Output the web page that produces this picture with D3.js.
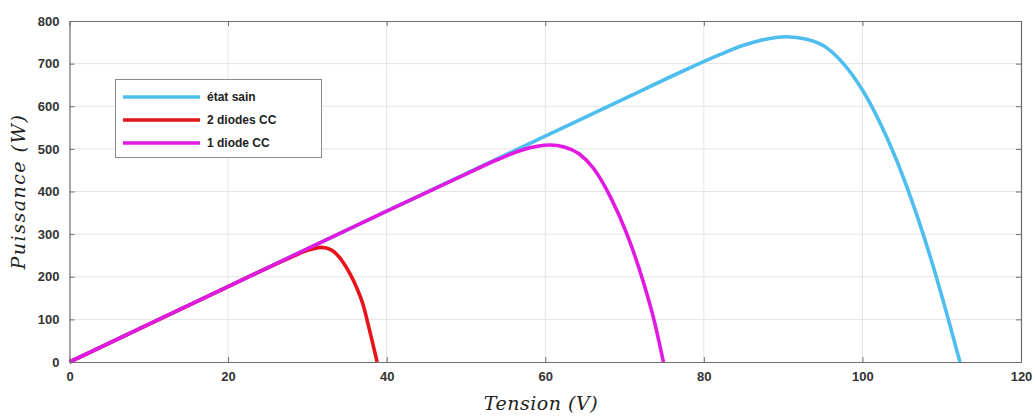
<!DOCTYPE html>
<html>
<head>
<meta charset="utf-8">
<script src="https://cdn.jsdelivr.net/npm/d3@7"></script>
<style>
  html, body { margin: 0; padding: 0; background: #fff; }
  svg { display: block; }
</style>
</head>
<body>
<svg id="chart" width="1035" height="417"></svg>
<script>
// P-V curves of a PV string: healthy vs. bypass diodes short-circuited
const seriesNames = ["état sain", "2 diodes CC", "1 diode CC"];
const seriesColors = ["#4DBEEE", "#E8141C", "#E01AE0"];

// Tension (V) / Puissance (W) samples per curve
const sainV = [0, 20, 40, 60, 70, 78, 82, 85, 88, 90.4, 93, 95.5, 97.6, 100, 102.2, 104.3, 106.8, 108.9, 110.6, 112.3];
const sainP = [0, 177, 354, 530, 618, 688, 721, 743, 758, 763, 757, 737, 700, 638, 562, 474, 348, 226, 116, 0];

const cc2V = [0, 10, 20, 25, 28, 30, 31.8, 33.0, 33.7, 34.5, 35.4, 36.2, 37.0, 37.8, 38.8];
const cc2P = [0, 88, 177, 221, 246, 262, 269, 263, 253, 234, 206, 175, 136, 78, 0];

const cc1V = [0, 20, 40, 50, 54, 57, 59, 60.6, 62.5, 64.3, 66.1, 68.2, 70.3, 72.4, 73.7, 74.9];
const cc1P = [0, 177, 354, 441, 475, 497, 506, 509, 504, 488, 454, 388, 300, 186, 100, 0];

const xTicks = [0, 20, 40, 60, 80, 100, 120];
const yTicks = [0, 100, 200, 300, 400, 500, 600, 700, 800];

const svg = d3.select("#chart");
const m = { left: 69.5, right: 1021, top: 21, bottom: 362 };

const x = d3.scaleLinear().domain([0, 120]).range([m.left, m.right]);
const y = d3.scaleLinear().domain([0, 800]).range([m.bottom, m.top]);

// grid
const grid = svg.append("g").attr("stroke", "#e4e4e4").attr("stroke-width", 1);
grid.selectAll(".gx").data(xTicks.slice(1, -1)).join("line")
  .attr("x1", d => x(d)).attr("x2", d => x(d))
  .attr("y1", m.top).attr("y2", m.bottom);
grid.selectAll(".gy").data(yTicks.slice(1, -1)).join("line")
  .attr("x1", m.left).attr("x2", m.right)
  .attr("y1", d => y(d)).attr("y2", d => y(d));

// curves
const curves = [
  { v: sainV, p: sainP, c: seriesColors[0] },
  { v: cc2V, p: cc2P, c: seriesColors[1] },
  { v: cc1V, p: cc1P, c: seriesColors[2] }
];
const line = d3.line()
  .x(d => x(d[0])).y(d => y(d[1]))
  .curve(d3.curveMonotoneX);
const plot = svg.append("g");
curves.forEach(s => {
  plot.append("path")
    .datum(s.v.map((v, i) => [v, s.p[i]]))
    .attr("fill", "none")
    .attr("stroke", s.c)
    .attr("stroke-width", 3.6)
    .attr("stroke-linejoin", "round")
    .attr("d", line);
});

// axes (box with inward ticks on all four sides)
const tickFont = "bold 13px 'Liberation Sans', Arial, sans-serif";
const axB = d3.axisBottom(x).tickValues(xTicks).tickSizeInner(-5).tickSizeOuter(0).tickPadding(10);
const axL = d3.axisLeft(y).tickValues(yTicks).tickSizeInner(-5).tickSizeOuter(0).tickPadding(10);
const axT = d3.axisTop(x).tickValues(xTicks).tickSizeInner(-5).tickSizeOuter(0).tickFormat("");
const axR = d3.axisRight(y).tickValues(yTicks).tickSizeInner(-5).tickSizeOuter(0).tickFormat("");

function styleAxis(g) {
  g.selectAll("path").attr("stroke", "#6e6e6e").attr("stroke-width", 1.2);
  g.selectAll("line").attr("stroke", "#6e6e6e");
  g.selectAll("text").style("font", tickFont).attr("fill", "#333");
}
svg.append("g").attr("transform", `translate(0,${m.bottom})`).call(axB).call(styleAxis);
svg.append("g").attr("transform", `translate(${m.left},0)`).call(axL).call(styleAxis);
svg.append("g").attr("transform", `translate(0,${m.top})`).call(axT).call(styleAxis);
svg.append("g").attr("transform", `translate(${m.right},0)`).call(axR).call(styleAxis);

// axis titles
const titleFont = "italic 19px 'DejaVu Serif', 'Liberation Serif', serif";
svg.append("text")
  .attr("x", 541).attr("y", 410)
  .attr("text-anchor", "middle")
  .style("font", titleFont)
  .style("letter-spacing", "0.5px")
  .attr("fill", "#222")
  .text("Tension (V)");
svg.append("text")
  .attr("transform", `translate(25,${(m.top + m.bottom) / 2}) rotate(-90)`)
  .attr("text-anchor", "middle")
  .style("font", titleFont)
  .style("letter-spacing", "1.5px")
  .attr("fill", "#222")
  .text("Puissance (W)");

// legend
const lg = svg.append("g");
lg.append("rect")
  .attr("x", 115.5).attr("y", 79.5).attr("width", 206).attr("height", 78)
  .attr("fill", "#fff").attr("stroke", "#8a8a8a").attr("stroke-width", 1);
seriesNames.forEach((n, i) => {
  const yy = 97 + i * 23;
  lg.append("line")
    .attr("x1", 123).attr("x2", 200).attr("y1", yy).attr("y2", yy)
    .attr("stroke", seriesColors[i]).attr("stroke-width", 3.6);
  lg.append("text")
    .attr("x", 207).attr("y", yy).attr("dy", "0.35em")
    .style("font", "bold 12px 'Liberation Sans', Arial, sans-serif")
    .attr("fill", "#222")
    .text(n);
});
</script>
</body>
</html>
